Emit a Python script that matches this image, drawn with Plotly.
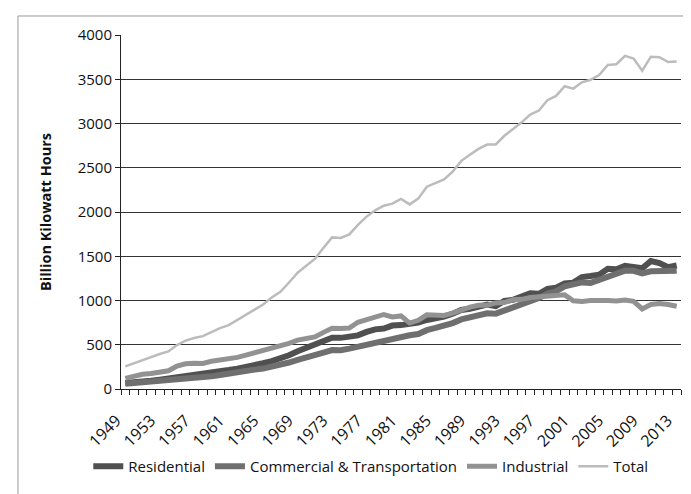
import plotly.graph_objects as go

years = list(range(1949, 2014))

residential = [67, 72, 83, 94, 106, 118, 128, 142, 155, 167, 181, 201, 214, 230, 245, 264,
               291, 315, 341, 381, 427, 466, 500, 539, 579, 578, 588, 606, 645, 674, 683,
               717, 722, 730, 751, 780, 794, 819, 850, 893, 906, 924, 955, 936, 995, 1008,
               1043, 1082, 1076, 1130, 1145, 1192, 1202, 1265, 1276, 1292, 1359, 1352, 1392,
               1380, 1364, 1446, 1423, 1375, 1395]

commercial = [59, 66, 73, 79, 86, 93, 102, 112, 121, 131, 143, 159, 170, 186, 201, 219,
              231, 251, 271, 299, 330, 352, 378, 411, 440, 438, 456, 478, 506, 519, 535,
              559, 596, 607, 621, 665, 690, 716, 745, 786, 812, 838, 855, 851, 886, 918,
              953, 980, 1027, 1078, 1104, 1159, 1190, 1204, 1199, 1230, 1275, 1300, 1336,
              1336, 1307, 1330, 1328, 1327, 1337]

industrial = [120, 146, 167, 176, 197, 206, 260, 285, 292, 289, 313, 324, 334, 357, 382, 408,
              429, 464, 481, 516, 552, 571, 588, 640, 686, 685, 688, 754, 786, 809, 842,
              815, 826, 745, 776, 838, 837, 831, 858, 896, 926, 946, 947, 973, 977, 1008,
              1013, 1034, 1038, 1051, 1058, 1064, 997, 990, 1000, 1005, 1000, 995, 1005,
              990, 905, 955, 965, 955, 935]

total = [255, 291, 329, 356, 396, 424, 497, 546, 576, 597, 646, 688, 722, 778, 833, 896,
         954, 1035, 1099, 1203, 1314, 1392, 1470, 1595, 1713, 1706, 1747, 1855, 1948, 2018,
         2071, 2094, 2147, 2086, 2151, 2286, 2324, 2369, 2457, 2578, 2647, 2713, 2762, 2763,
         2861, 2935, 3013, 3101, 3146, 3264, 3312, 3421, 3394, 3465, 3494, 3547, 3661, 3670,
         3765, 3734, 3597, 3755, 3750, 3695, 3700]

tick_years = list(range(1949, 2014, 4))
tick_labels = [str(y) for y in tick_years]
y_ticks = [0, 500, 1000, 1500, 2000, 2500, 3000, 3500, 4000]

series = [
    ("Residential", residential, "#505050", 6),
    ("Commercial & Transportation", commercial, "#6f6f6f", 6),
    ("Industrial", industrial, "#929292", 5),
    ("Total", total, "#bcbcbc", 2.5),
]

font_family = "Open Sans, DejaVu Sans, sans-serif"

fig = go.Figure()
for name, vals, color, width in series:
    fig.add_trace(go.Scatter(x=years, y=vals, mode="lines", name=name,
                             line=dict(color=color, width=width)))

fig.update_layout(
    width=691, height=494,
    margin=dict(l=113, r=18, t=27, b=113, autoexpand=False),
    paper_bgcolor="white", plot_bgcolor="white",
    font=dict(family=font_family, size=14, color="#111"),
    showlegend=True,
    legend=dict(orientation="h", xref="container", yref="container",
                x=0.525, xanchor="center", y=0.072, yanchor="middle",
                font=dict(size=15), itemwidth=30, tracegroupgap=0,
                bgcolor="rgba(0,0,0,0)"),
    shapes=[dict(type="rect", xref="paper", yref="paper",
                 x0=-0.184, x1=1.023, y0=-0.2994, y1=1.0537,
                 line=dict(color="#999", width=1), layer="below")],
)

fig.update_xaxes(
    range=[1948.5, 2013.5],
    tickmode="array", tickvals=tick_years, ticktext=tick_labels,
    tickangle=-45, ticks="", showgrid=False, zeroline=False,
    showline=True, linecolor="#222", linewidth=1,
    tickfont=dict(size=16), ticklabelstandoff=15, ticklabelshift=-9,
    minor=dict(ticks="outside", dtick=1, tick0=1948.5, ticklen=5,
               tickcolor="#222", showgrid=False),
)

fig.update_yaxes(
    range=[0, 4000], tickmode="array", tickvals=y_ticks,
    ticks="outside", ticklen=5, tickcolor="#222",
    showgrid=True, gridcolor="#333", gridwidth=1,
    zeroline=False, showline=True, linecolor="#222", linewidth=1,
    tickfont=dict(size=15),
    title=dict(text="<b>Billion Kilowatt Hours</b>", font=dict(size=14.5), standoff=22),
)

fig.write_html("out.html")
